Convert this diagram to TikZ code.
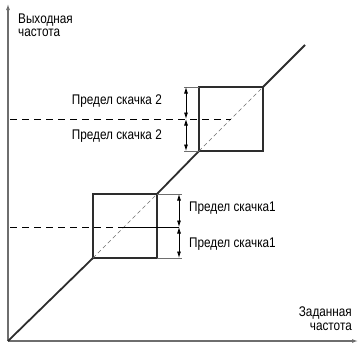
\documentclass[tikz,border=0pt]{standalone}
\usepackage{fontspec}
\setmainfont[FakeStretch=0.84]{Liberation Sans}
\usetikzlibrary{arrows.meta}
\definecolor{axisgray}{RGB}{110,110,110}
\definecolor{linedark}{RGB}{45,45,45}
\tikzset{
  lbl/.style={inner sep=0pt, font=\fontsize{14}{14}\selectfont, text=black},
  axisline/.style={draw=axisgray, line width=1.1pt, -{Latex[length=6pt,width=4pt]}},
  mainline/.style={draw=linedark, line width=1.8pt},
  boxline/.style={draw=linedark, line width=1.3pt},
  thindash/.style={draw=axisgray, line width=0.6pt, dash pattern=on 4pt off 3pt},
  hdash/.style={draw=black, line width=0.8pt, dash pattern=on 7pt off 5pt},
  extline/.style={draw=axisgray, line width=1pt},
  dimarrow/.style={draw=black, line width=0.8pt, {Latex[length=6.5pt,width=4pt]}-{Latex[length=6.5pt,width=4pt]}}
}
\begin{document}
\begin{tikzpicture}[x=1pt,y=-1pt]
\useasboundingbox (0,0) rectangle (358,343);
% axes
\coordinate (O) at (8,341);
\coordinate (Ytop) at (8,4);
\coordinate (Xend) at (358,341);
\draw[axisline] (O) -- (Ytop);
\draw[axisline] (O) -- (Xend);
% key points
\coordinate (L1) at (93,258);
\coordinate (L2) at (157,194);
\coordinate (U1) at (199,151);
\coordinate (U2) at (263,87);
\coordinate (E) at (305,45);
% main characteristic
\draw[mainline] (O) -- (L1);
\draw[mainline] (L2) -- (U1);
\draw[mainline] (U2) -- (E);
% boxes
\draw[boxline] (L1) rectangle (L2);
\draw[boxline] (U1) rectangle (U2);
\draw[thindash] (L1) -- (L2);
\draw[thindash] (U1) -- (U2);
% upper jump limits
\coordinate (uhl) at (10,119);
\coordinate (uhd) at (231,119);
\draw[hdash] (uhl) -- (uhd);
\coordinate (uat) at (186,87);
\coordinate (uam) at (186,119);
\coordinate (uab) at (186,151);
\coordinate (uet) at (184,87);
\coordinate (ueb) at (184,151);
\draw[extline] (uet) -- (U1 |- U2);
\draw[extline] (ueb) -- (U1);
\draw[dimarrow] (uat) -- (uam);
\draw[dimarrow] (uam) -- (uab);
\node[lbl, anchor=base east] (u1) at (162,104) {Предел скачка 2};
\node[lbl, anchor=base east] (u2) at (162,139) {Предел скачка 2};
% lower jump limits
\coordinate (lhl) at (10,227);
\coordinate (lhd) at (125,227);
\coordinate (lhr) at (179,227);
\draw[hdash] (lhl) -- (lhd);
\draw[draw=black, line width=0.8pt] (lhd) -- (lhr);
\coordinate (lat) at (179,194);
\coordinate (lab) at (179,258);
\coordinate (let) at (182,194);
\coordinate (leb) at (182,258);
\draw[extline] (L2) -- (let);
\draw[extline] (L2 |- L1) -- (leb);
\draw[dimarrow] (lat) -- (lhr);
\draw[dimarrow] (lhr) -- (lab);
\node[lbl, anchor=base west] (l1) at (189,211) {Предел скачка1};
\node[lbl, anchor=base west] (l2) at (189,247) {Предел скачка1};
% axis labels
\node[lbl, anchor=base west] (ylab1) at (18,23) {Выходная};
\node[lbl, anchor=base west] (ylab2) at (18,36) {частота};
\node[lbl, anchor=base east] (xlab1) at (352,316) {Заданная};
\node[lbl, anchor=base east] (xlab2) at (352,330) {частота};
\end{tikzpicture}
\end{document}
